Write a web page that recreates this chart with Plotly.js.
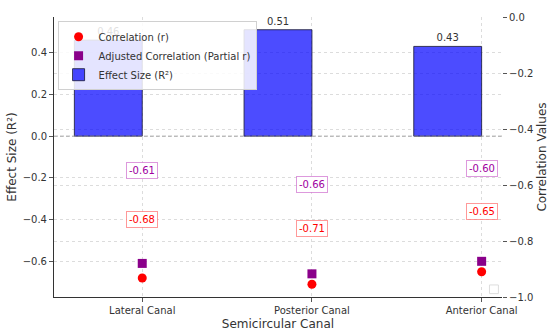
<!DOCTYPE html>
<html>
<head>
<meta charset="utf-8">
<script src="https://cdn.plot.ly/plotly-3.0.1.min.js"></script>
<style>html,body{margin:0;padding:0;background:#fff;}#chart{width:550px;height:331px;}</style>
</head>
<body>
<div id="chart"></div>
<script>
const categories = ["Lateral Canal", "Posterior Canal", "Anterior Canal"];
const correlation = [-0.68, -0.71, -0.65];
const adjusted = [-0.61, -0.66, -0.60];
const effectSize = [0.46, 0.51, 0.43];

const xpos = categories.map((c, i) => i);
const font = "DejaVu Sans, Liberation Sans, sans-serif";

const traces = [
  {
    type: "scatter", mode: "markers", name: "Correlation (r)",
    x: xpos, y: correlation, yaxis: "y",
    marker: {color: "#ff0000", size: 9, symbol: "circle"},
    hoverinfo: "skip"
  },
  {
    type: "scatter", mode: "markers", name: "Adjusted Correlation (Partial r)",
    x: xpos, y: adjusted, yaxis: "y",
    marker: {color: "#8a008a", size: 9, symbol: "square"},
    hoverinfo: "skip"
  },
  {
    type: "bar", name: "Effect Size (R²)",
    x: xpos, y: effectSize, yaxis: "y",
    width: 0.4, offset: -0.4,
    marker: {color: "rgba(0,0,255,0.7)", line: {color: "rgba(30,30,60,0.85)", width: 1}},
    text: effectSize.map(v => v.toFixed(2)),
    textposition: "outside",
    textfont: {family: font, size: 10, color: "#333"},
    cliponaxis: false,
    hoverinfo: "skip"
  }
];

const annotations = [];
categories.forEach((c, i) => {
  annotations.push({
    x: i, y: adjusted[i], xref: "x", yref: "y2", yshift: 17,
    text: adjusted[i].toFixed(2), showarrow: false,
    font: {family: font, size: 10, color: "#a000a0"},
    bgcolor: "#ffffff", bordercolor: "rgba(170,0,170,0.4)", borderwidth: 1, borderpad: 2
  });
  annotations.push({
    x: i, y: correlation[i], xref: "x", yref: "y2", yshift: -12.5,
    text: correlation[i].toFixed(2), showarrow: false,
    font: {family: font, size: 10, color: "#ff0000"},
    bgcolor: "#ffffff", bordercolor: "rgba(255,0,0,0.4)", borderwidth: 1, borderpad: 2
  });
});

const gridColor = "#dcdcdc";
const layout = {
  width: 550, height: 331,
  margin: {l: 54, r: 48, t: 17, b: 34},
  paper_bgcolor: "#fff", plot_bgcolor: "#fff",
  font: {family: font, size: 10, color: "#333"},
  showlegend: true,
  legend: {
    x: 0.008, y: 0.985, xanchor: "left", yanchor: "top",
    bgcolor: "rgba(255,255,255,0.85)", bordercolor: "#d0d0d0", borderwidth: 1,
    font: {family: font, size: 10, color: "#333"},
    tracegroupgap: 0, itemwidth: 30
  },
  xaxis: {
    range: [-0.52, 2.12],
    tickvals: xpos, ticktext: categories,
    showgrid: true, gridcolor: gridColor, griddash: "dot", gridwidth: 1,
    showline: true, linecolor: "#333", linewidth: 1,
    ticks: "outside", ticklen: 4, tickcolor: "#555",
    zeroline: false,
    tickfont: {family: font, size: 10, color: "#333"},
    title: {text: "Semicircular Canal", font: {family: font, size: 12, color: "#333"}, standoff: 5}
  },
  yaxis: {
    range: [-0.771, 0.571],
    dtick: 0.2, tick0: 0, tickformat: ".1f",
    showgrid: true, gridcolor: gridColor, griddash: "dot", gridwidth: 1,
    showline: true, linecolor: "#333", linewidth: 1,
    ticks: "outside", ticklen: 4, tickcolor: "#555",
    zeroline: false,
    tickfont: {family: font, size: 10, color: "#333"},
    title: {text: "Effect Size (R²)", font: {family: font, size: 12, color: "#333"}, standoff: 3}
  },
  yaxis2: {
    range: [-1.0, 0.0], overlaying: "y", side: "right",
    dtick: 0.2, tick0: 0, tickformat: ".1f",
    showgrid: true, gridcolor: gridColor, griddash: "dot", gridwidth: 1,
    showline: false,
    ticks: "outside", ticklen: 4, tickcolor: "#555",
    zeroline: false,
    tickfont: {family: font, size: 10, color: "#333"},
    title: {text: "Correlation Values", font: {family: font, size: 12, color: "#333"}, standoff: 5}
  },
  shapes: [
    {type: "line", xref: "paper", x0: 0, x1: 1, yref: "y", y0: 0, y1: 0,
     line: {color: "#999", width: 0.8, dash: "4px,2px"}, layer: "above"},
    {type: "rect", xref: "paper", yref: "paper", x0: 0.972, x1: 0.992, y0: 0.012, y1: 0.043,
     line: {color: "#dddddd", width: 1}, fillcolor: "#ffffff"}
  ],
  annotations: annotations
};

// empty trace that activates the secondary (right) axis
traces.push({type: "scatter", mode: "markers", x: [], y: [], yaxis: "y2", showlegend: false, hoverinfo: "skip"});

Plotly.newPlot("chart", traces, layout, {staticPlot: true, displayModeBar: false});
</script>
</body>
</html>
